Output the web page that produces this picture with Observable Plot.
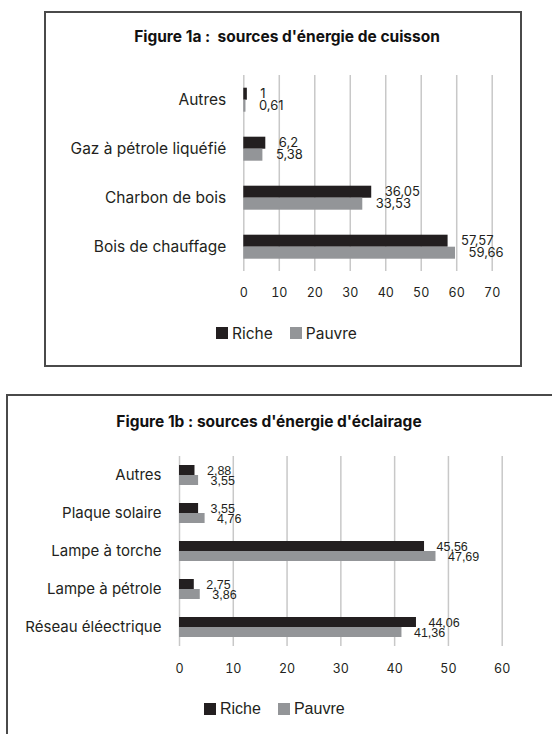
<!DOCTYPE html>
<html>
<head>
<meta charset="utf-8">
<script src="https://cdn.jsdelivr.net/npm/d3@7"></script>
<script src="https://cdn.jsdelivr.net/npm/@observablehq/plot@0.6"></script>
<style>
  html, body { margin: 0; padding: 0; background: #fff; }
  #page { position: relative; width: 552px; height: 734px; overflow: hidden; background: #fff; font-family: Inter, "Noto Sans", sans-serif; color: #231f20; }
  .box { position: absolute; box-sizing: border-box; border: 2px solid #4a4a4a; }
  .title { position: absolute; transform: translateX(-50%); white-space: pre; font-weight: 700; font-size: 15.5px; line-height: 20px; color: #111; }
  .chart { position: absolute; left: 0; }
  .legend { position: absolute; display: flex; align-items: center; height: 20px; }
  .legend .sw { width: 12px; height: 12px; display: inline-block; margin-right: 4px; }
  .legend .lab { margin-right: 17px; }
</style>
</head>
<body>
<div id="page">
  <div class="box" style="left:44px; top:11px; width:478px; height:356px;"></div>
  <div class="box" style="left:6px; top:394px; width:560px; height:360px;"></div>
  <div class="title" style="left:287px; top:27px;">Figure 1a :  sources d'énergie de cuisson</div>
  <div class="title" style="left:269px; top:412px;">Figure 1b : sources d'énergie d'éclairage</div>
  <div class="chart" id="c1" style="top:50px;"></div>
  <div class="chart" id="c2" style="top:440px;"></div>
  <div class="legend" id="l1" style="left:216px; top:323px; font-size:15.5px;"></div>
  <div class="legend" id="l2" style="left:204px; top:699px; font-size:16px; font-family:'Liberation Sans', Arial, sans-serif;"></div>
</div>
<script>
// ---- Data ----
const series = ["Riche", "Pauvre"];
const seriesColors = ["#231f20", "#939598"];

const cats1 = ["Autres", "Gaz à pétrole liquéfié", "Charbon de bois", "Bois de chauffage"];
const riche1 = [1, 6.2, 36.05, 57.57];
const pauvre1 = [0.61, 5.38, 33.53, 59.66];
const ticks1 = [0, 10, 20, 30, 40, 50, 60, 70];

const cats2 = ["Autres", "Plaque solaire", "Lampe à torche", "Lampe à pétrole", "Réseau éléectrique"];
const riche2 = [2.88, 3.55, 45.56, 2.75, 44.06];
const pauvre2 = [3.55, 4.76, 47.69, 3.86, 41.36];
const ticks2 = [0, 10, 20, 30, 40, 50, 60];

const fmt = v => String(v).replace(".", ",");

function makeChart(cats, riche, pauvre, ticks, o) {
  const data = cats.flatMap((c, i) => [
    {cat: c, s: series[0], v: riche[i]},
    {cat: c, s: series[1], v: pauvre[i]}
  ]);
  return Plot.plot({
    width: 552,
    height: o.height,
    marginLeft: o.ml, marginRight: o.mr, marginTop: o.mt, marginBottom: o.mb,
    style: {fontFamily: "Inter, 'Noto Sans', sans-serif", fontSize: "12px", color: "#231f20", background: "transparent", overflow: "visible"},
    x: {domain: [0, ticks[ticks.length - 1]], label: null},
    y: {domain: series, paddingInner: 0, paddingOuter: o.po, axis: null},
    fy: {domain: cats, padding: 0, label: null},
    color: {domain: series, range: seriesColors},
    marks: [
      Plot.gridX(ticks, {stroke: "#c8c8c8", strokeOpacity: 1, strokeWidth: 1.5}),
      Plot.axisX(ticks, {tickSize: 0, tickPadding: o.tp, label: null, fontSize: 12.5, tickFormat: d => d}),
      Plot.axisFy({anchor: "left", tickSize: 0, tickPadding: o.fp, label: null, fontSize: o.catSize}),
      Plot.barX(data, {fy: "cat", y: "s", x: "v", fill: "s"}),
      Plot.text(data, {fy: "cat", y: "s", x: "v", text: d => fmt(d.v), textAnchor: "start", dx: o.dx, fontSize: o.valSize, fontFamily: o.valFont})
    ]
  });
}

document.getElementById("c1").append(makeChart(cats1, riche1, pauvre1, ticks1, {
  height: 260, ml: 243.3, mr: 60.3, mt: 23.3, mb: 38, po: 0.92, tp: 17, fp: 17.6, dx: 13, catSize: 15.5, valSize: 13, valFont: "Inter, sans-serif"
}));
document.getElementById("c2").append(makeChart(cats2, riche2, pauvre2, ticks2, {
  height: 238, ml: 179, mr: 50.3, mt: 15, mb: 30.3, po: 0.76, tp: 17.5, fp: 18, dx: 12, catSize: 15, valSize: 12.5, valFont: "'Liberation Sans', Arial, sans-serif"
}));

function legend(id) {
  const el = document.getElementById(id);
  series.forEach((s, i) => {
    const sw = document.createElement("span");
    sw.className = "sw";
    sw.style.background = seriesColors[i];
    const lab = document.createElement("span");
    lab.className = "lab";
    lab.textContent = s;
    el.append(sw, lab);
  });
}
legend("l1");
legend("l2");
</script>
</body>
</html>
